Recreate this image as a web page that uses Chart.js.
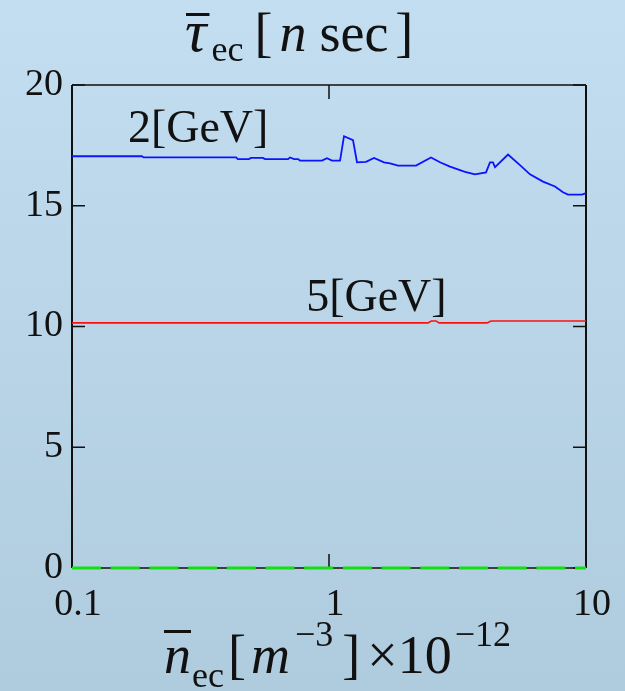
<!DOCTYPE html>
<html>
<head>
<meta charset="utf-8">
<title>tau_ec vs n_ec</title>
<script src="https://cdn.jsdelivr.net/npm/chart.js@4.4.1/dist/chart.umd.min.js"></script>
<style>
  html, body { margin: 0; padding: 0; }
  body {
    width: 625px;
    height: 691px;
    overflow: hidden;
    background: linear-gradient(to bottom, #c3def0, #afcbde);
  }
  canvas { display: block; }
</style>
</head>
<body>
<canvas id="tauChart" width="625" height="691"></canvas>
<script>
// mean electron density (x 1e12 m^-3) vs. mean cooling time [ns]
const density2GeV = [0.1, 0.187, 0.19, 0.435, 0.442, 0.488, 0.497, 0.553, 0.564, 0.693,
    0.705, 0.731, 0.758, 0.771, 0.939, 0.982, 1.027, 1.104, 1.144, 1.24,
    1.285, 1.393, 1.497, 1.637, 1.728, 1.856, 2.181, 2.494, 2.703, 2.957,
    3.382, 3.7, 4.083, 4.232, 4.346, 4.425, 4.973, 5.535, 6.054, 6.803,
    7.574, 8.138, 8.511, 9.647, 10];
const tau2GeV = [17.05, 17.05, 17.0, 17.0, 16.93, 16.93, 16.98, 16.98, 16.93, 16.93,
    17.0, 16.93, 16.93, 16.87, 16.87, 16.97, 16.87, 16.87, 17.88, 17.72,
    16.8, 16.82, 16.98, 16.8, 16.75, 16.66, 16.66, 17.0, 16.8, 16.62,
    16.4, 16.3, 16.38, 16.8, 16.8, 16.6, 17.12, 16.68, 16.3, 16.0,
    15.8, 15.56, 15.46, 15.46, 15.52];

const density5GeV = [0.1, 2.43, 2.5, 2.61, 2.68, 4.12, 4.27, 10];
const tau5GeV = [10.15, 10.15, 10.23, 10.23, 10.15, 10.15, 10.23, 10.23];

const densityZero = [0.1, 10];
const tauZero = [0, 0];

const xTickValues = [0.1, 1, 10];
const xTickLabels = ['0.1', '1', '10'];
const yTickValues = [0, 5, 10, 15, 20];

// curve labels, anchored in data coordinates
const curveLabels = ['2[GeV]', '5[GeV]'];
const curveLabelDensity = [0.165, 0.815];
const curveLabelTau = [17.64, 10.64];

const SERIF = "'Liberation Serif', 'Times New Roman', serif";

function toPoints(xs, ys) {
    return xs.map((x, i) => ({ x: x, y: ys[i] }));
}

// draws a run of text pieces (italic, sub/superscripts, overbars) left to right
function drawRuns(ctx, runs, x, base) {
    runs.forEach(r => {
        ctx.font = r.font;
        x += r.gap || 0;
        const w = ctx.measureText(r.text).width;
        ctx.fillText(r.text, x, base + (r.dy || 0));
        if (r.bar) {
            ctx.fillRect(x + r.bar[0], base - r.bar[1], w + r.bar[2], 3);
        }
        x += w;
    });
}

const big = `54px ${SERIF}`;
const bigItalic = `italic 54px ${SERIF}`;
const small = `36px ${SERIF}`;

const titleRuns = [
    { text: 'τ', font: `italic 60px ${SERIF}`, bar: [1, 38, 2] },
    { text: 'ec', font: small, dy: 10, gap: 5 },
    { text: '[', font: big, gap: 11 },
    { text: 'n', font: bigItalic, gap: 7 },
    { text: 'sec', font: big, gap: 13 },
    { text: ']', font: big, gap: 7 }
];

const xTitleRuns = [
    { text: 'n', font: bigItalic, bar: [0, 43, 0] },
    { text: 'ec', font: small, dy: 14, gap: 1 },
    { text: '[', font: big, gap: 4 },
    { text: 'm', font: bigItalic, gap: 5 },
    { text: '−3', font: small, dy: -27, gap: 5 },
    { text: ']', font: big, gap: 9 },
    { text: '×10', font: big, gap: 7 },
    { text: '−12', font: small, dy: -27, gap: 3 }
];

const framePlugin = {
    id: 'frame',
    beforeDatasetsDraw(chart) {
        const { ctx, chartArea: a, scales: { x, y } } = chart;
        ctx.save();
        ctx.strokeStyle = '#111';
        ctx.lineCap = 'butt';

        ctx.lineWidth = 1.5;
        ctx.beginPath();
        ctx.moveTo(a.left, a.top); ctx.lineTo(a.right, a.top);
        ctx.moveTo(a.left, a.bottom); ctx.lineTo(a.right, a.bottom);
        ctx.stroke();

        ctx.lineWidth = 2;
        ctx.beginPath();
        ctx.moveTo(a.left, a.top); ctx.lineTo(a.left, a.bottom);
        ctx.moveTo(a.right, a.top); ctx.lineTo(a.right, a.bottom);
        ctx.stroke();

        // inward ticks on all four sides
        ctx.lineWidth = 1.5;
        ctx.beginPath();
        yTickValues.forEach(v => {
            const py = y.getPixelForValue(v);
            ctx.moveTo(a.left, py); ctx.lineTo(a.left + 13, py);
            ctx.moveTo(a.right, py); ctx.lineTo(a.right - 13, py);
        });
        xTickValues.forEach(v => {
            const px = x.getPixelForValue(v);
            ctx.moveTo(px, a.bottom); ctx.lineTo(px, a.bottom - 14);
            ctx.moveTo(px, a.top); ctx.lineTo(px, a.top + 14);
        });
        ctx.stroke();
        ctx.restore();
    },
    afterDraw(chart) {
        const { ctx, scales: { x, y } } = chart;
        ctx.save();
        ctx.fillStyle = '#111';
        ctx.textBaseline = 'alphabetic';
        ctx.textAlign = 'left';

        ctx.font = `46px ${SERIF}`;
        curveLabels.forEach((t, i) => {
            ctx.fillText(t, x.getPixelForValue(curveLabelDensity[i]), y.getPixelForValue(curveLabelTau[i]));
        });

        drawRuns(ctx, titleRuns, 185, 51);
        drawRuns(ctx, xTitleRuns, 164, 673);
        ctx.restore();
    }
};

const ctx = document.getElementById('tauChart').getContext('2d');

new Chart(ctx, {
    type: 'line',
    data: {
        datasets: [
            {
                data: toPoints(density2GeV, tau2GeV),
                borderColor: '#0a14ff',
                borderWidth: 1.8
            },
            {
                data: toPoints(density5GeV, tau5GeV),
                borderColor: '#ff1010',
                borderWidth: 1.6
            },
            {
                data: toPoints(densityZero, tauZero),
                borderColor: '#12e012',
                borderWidth: 3,
                borderDash: [29, 9.7]
            }
        ]
    },
    options: {
        responsive: false,
        animation: false,
        parsing: false,
        layout: { padding: { top: 85, right: 39, left: 0, bottom: 0 } },
        plugins: {
            legend: { display: false },
            tooltip: { enabled: false }
        },
        elements: {
            point: { radius: 0 },
            line: { tension: 0, fill: false }
        },
        datasets: { line: { clip: 4 } },
        scales: {
            x: {
                type: 'logarithmic',
                min: 0.1,
                max: 10,
                border: { display: false },
                grid: { display: false },
                ticks: {
                    autoSkip: false,
                    maxRotation: 0,
                    padding: 6,
                    labelOffset: 6,
                    color: '#111',
                    font: { family: SERIF, size: 38 },
                    callback: function (v) {
                        const i = xTickValues.findIndex(t => Math.abs(Math.log10(t) - Math.log10(v)) < 1e-6);
                        return i >= 0 ? xTickLabels[i] : null;
                    }
                },
                afterFit: function (scale) { scale.height = 123; }
            },
            y: {
                min: 0,
                max: 20,
                border: { display: false },
                grid: { display: false },
                ticks: {
                    stepSize: 5,
                    padding: 1,
                    color: '#111',
                    font: { family: SERIF, size: 38 }
                },
                afterFit: function (scale) { scale.width = 72; }
            }
        }
    },
    plugins: [framePlugin]
});
</script>
</body>
</html>
